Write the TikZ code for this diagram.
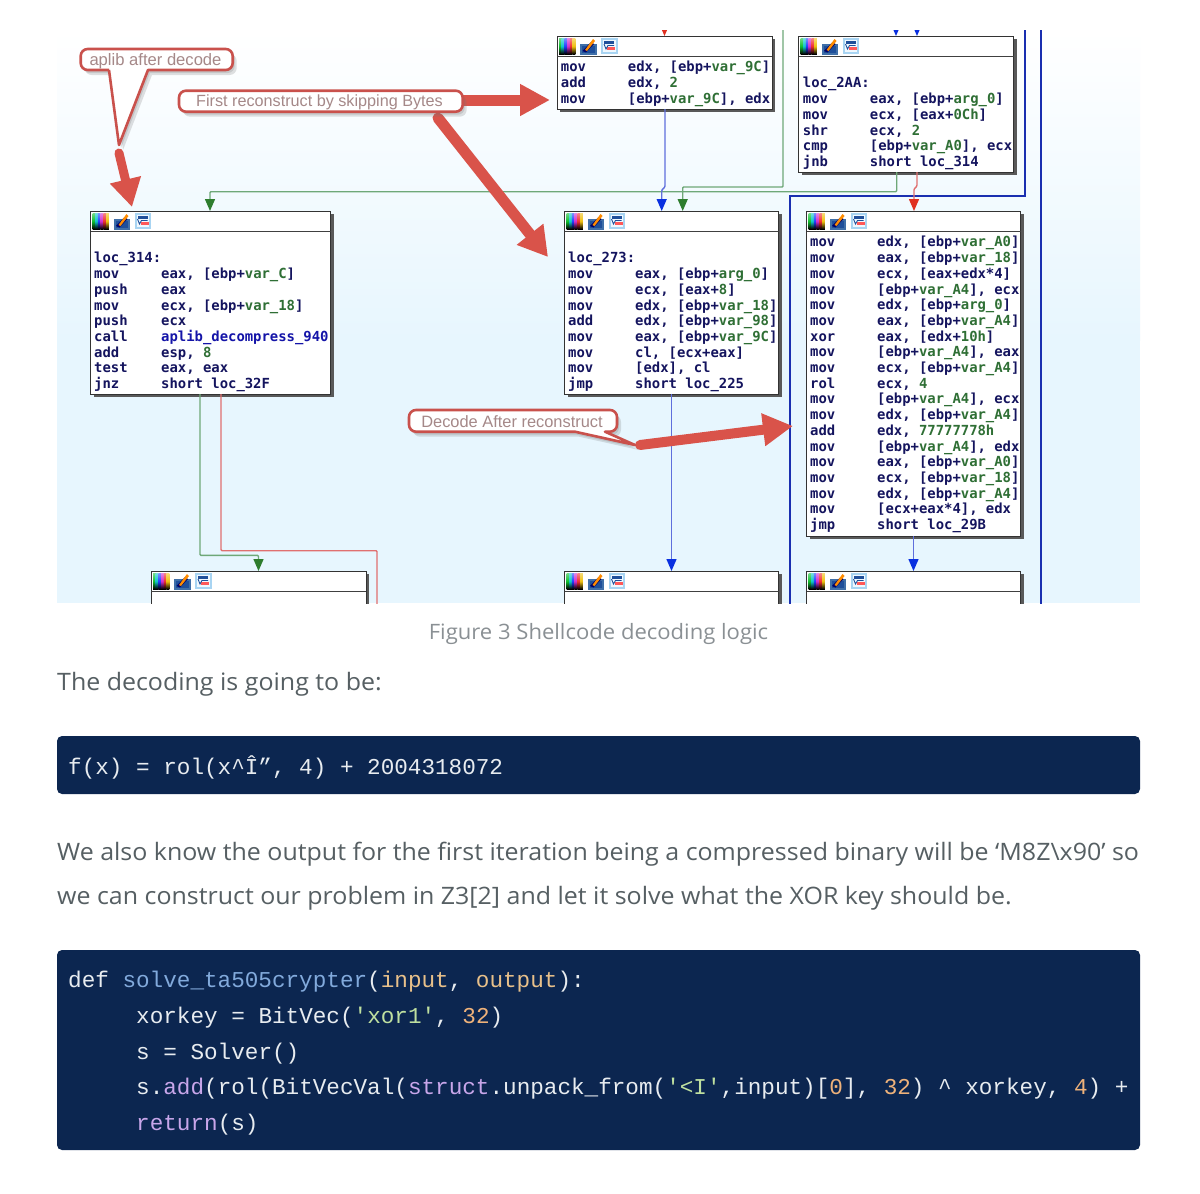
\documentclass[tikz,border=0pt]{standalone}
\usepackage{fontspec}
\usetikzlibrary{arrows.meta,shadows}
\newfontfamily\asmfont{DejaVu Sans Mono}[BoldFont={DejaVu Sans Mono Bold}]
\newfontfamily\codefont{Liberation Mono}
\newfontfamily\notefont{Liberation Sans}
\newfontfamily\bodyfont{Open Sans}[FakeStretch=1.04]
\definecolor{pagebg}{HTML}{E7F6FE}
\definecolor{asmnavy}{HTML}{14145E}
\definecolor{asmgreen}{HTML}{2F6F35}
\definecolor{asmblue}{HTML}{1414A8}
\definecolor{connblue}{HTML}{5F6FDC}
\definecolor{tipblue}{HTML}{0A30E0}
\definecolor{conngreen}{HTML}{6EA878}
\definecolor{tipgreen}{HTML}{2E7D2E}
\definecolor{connred}{HTML}{E07070}
\definecolor{tipred}{HTML}{E03020}
\definecolor{thickblue}{HTML}{1A2FB0}
\definecolor{annot}{HTML}{D9534A}
\definecolor{annotline}{HTML}{C9514C}
\definecolor{annottext}{HTML}{A58888}
\definecolor{codebg}{HTML}{0C2650}
\definecolor{codefg}{HTML}{E8ECF0}
\definecolor{cfunc}{HTML}{82AADC}
\definecolor{carg}{HTML}{E8C08A}
\definecolor{cstr}{HTML}{BFE0A0}
\definecolor{cnum}{HTML}{EFB27A}
\definecolor{cbuilt}{HTML}{C8A6EA}
\definecolor{bodygray}{HTML}{565F63}
\definecolor{capgray}{HTML}{8A9094}
\definecolor{rbA}{HTML}{10C030}
\definecolor{rbB}{HTML}{10C8C8}
\definecolor{rbC}{HTML}{2040FF}
\definecolor{rbD}{HTML}{D030D0}
\definecolor{rbE}{HTML}{F03030}
\definecolor{rbF}{HTML}{F0C010}
\definecolor{icnA}{HTML}{3F6FA8}
\definecolor{icnB}{HTML}{A8D4F2}
\definecolor{icnC}{HTML}{F0F8FE}
\definecolor{icnD}{HTML}{1F4F9A}
\newcommand\vg[1]{\textcolor{asmgreen}{#1}}
\newcommand\vb[1]{\textcolor{asmblue}{#1}}
\newcommand\Ins[2]{\makebox[67pt][l]{#1}#2}
\newcommand\fr{\rule{0pt}{12pt}}
\newcommand\cf[1]{\textcolor{cfunc}{#1}}
\newcommand\ca[1]{\textcolor{carg}{#1}}
\newcommand\cs[1]{\textcolor{cstr}{#1}}
\newcommand\cn[1]{\textcolor{cnum}{#1}}
\newcommand\cb[1]{\textcolor{cbuilt}{#1}}
\tikzset{
  idabox/.style={draw=black!80,line width=1pt,fill=white,anchor=north west,inner sep=0,outer sep=0,
    general shadow={fill=black!65,shadow xshift=3pt,shadow yshift=-3pt}},
  asm/.style={anchor=north west,inner sep=0,align=left,text=asmnavy,
    font={\asmfont\bfseries\fontsize{13.9}{15.7}\selectfont}},
  conn/.style={line width=1.4pt,rounded corners=1pt},
  cblue/.style={conn,draw=connblue,-{Triangle[length=12pt,width=10pt,color=tipblue]}},
  cgreen/.style={conn,draw=conngreen,-{Triangle[length=12pt,width=10pt,color=tipgreen]}},
  cred/.style={conn,draw=connred,-{Triangle[length=12pt,width=10pt,color=tipred]}},
  credplain/.style={conn,draw=connred},
  thick blue/.style={line width=2pt,draw=thickblue},
  bigarrow/.style={draw=annot,line width=#1,line cap=round},
  callout/.style={draw=annotline,line width=2.6pt,fill=white,line join=round},
  calloutshade/.style={fill=black!55,opacity=.22},
  note/.style={inner sep=0,text=annottext,font={\notefont\fontsize{#1}{18}\selectfont}},
  body/.style={anchor=base west,inner sep=0,text=bodygray,font={\bodyfont\fontsize{24}{28}\selectfont}},
  caption/.style={anchor=base,inner sep=0,text=capgray,font={\bodyfont\fontsize{21.2}{24}\selectfont}},
  codeline/.style={anchor=base west,inner sep=0,text=codefg,font={\codefont\fontsize{22.65}{26}\selectfont}},
  codepanel/.style={fill=codebg,rounded corners=5pt},
}
% header rule and three toolbar icons of an IDA block
\newcommand\hdr[1]{%
  \draw[line width=1pt,black!75] ([yshift=-20pt]#1.north west) -- ([yshift=-20pt]#1.north east);
  \begin{scope}[shift={(#1.north west)}]
    \foreach \cx/\cc in {2/rbA,4.7/rbB,7.4/rbC,10.1/rbD,12.8/rbE,15.5/rbF}{
      \shade[top color=\cc!60!white,bottom color=black,middle color=\cc] (\cx,2.5) rectangle (\cx+2.8,18);
    }
    \fill[icnA] (23,8) rectangle (39.5,19);
    \fill[icnD] (25,10) rectangle (37.5,17);
    \fill[black!60!blue] (25.5,15) -- (34,6) -- (37,8) -- (29,16.5) -- cycle;
    \fill[orange!90!yellow] (28,14) -- (36,3) -- (38,5) -- (30,15) -- cycle;
    \fill[icnB] (44,1.5) rectangle (60.5,17.5);
    \fill[icnC] (46,3.5) rectangle (58.5,15.5);
    \fill[icnD] (47,5) rectangle (57,7.5);
    \fill[red!65] (50,11) rectangle (58,14);
    \draw[icnD,line width=.9pt] (47,8) -- (49,13) -- (51,9.5) -- (57,9.5);
  \end{scope}
}
\newcommand\calloutpath[1]{%
  \path[calloutshade,shift={(4,5)}] #1;
  \path[calloutshade,shift={(2,3)}] #1;
  \path[callout] #1;
}
\begin{document}
\begin{tikzpicture}[x=1pt,y=-1pt]
\useasboundingbox (0,0) rectangle (1200,1194);
\fill[white] (0,0) rectangle (1200,1194);
\begin{scope}
\clip (57,30) rectangle (1140,603);
\shade[top color=white,bottom color=pagebg] (57,30) rectangle (1140,340);
\fill[pagebg] (57,339.5) rectangle (1140,603);

% blocks
\coordinate (topA) at (783,20);
\coordinate (topB) at (1025,20);
\coordinate (topC) at (1040.7,20);
\coordinate (botC) at (1040.7,620);
\coordinate (botB) at (790,620);
\coordinate (botR) at (377,620);
\node[idabox,minimum width=215pt,minimum height=73pt]  (b9C)  at (557,36) {};
\node[idabox,minimum width=215pt,minimum height=136pt] (b2AA) at (798.5,36) {};
\node[idabox,minimum width=240pt,minimum height=183pt] (b314) at (90.5,211) {};
\node[idabox,minimum width=214pt,minimum height=183pt] (b273) at (564.5,211) {};
\node[idabox,minimum width=214pt,minimum height=325pt] (bA0)  at (806.5,211) {};
\node[idabox,minimum width=215pt,minimum height=60pt]  (bLow1) at (151,571) {};
\node[idabox,minimum width=214pt,minimum height=60pt]  (bLow2) at (564.5,571) {};
\node[idabox,minimum width=214pt,minimum height=60pt]  (bLow3) at (806.5,571) {};

% connectors
\draw[thick blue] (topC) -- (botC);
\draw[thick blue] (topB) -- (1025,195.7) -- (790,195.7) -- (botB);
\draw[cred] (b9C.north |- 0,20) -- (b9C.north);
\draw[cblue] (896,20) -- (896,0 |- b2AA.north);
\draw[cblue] (917,20) -- (917,0 |- b2AA.north);
\draw[cgreen] (896.7,0 |- b2AA.south) -- (896.7,191.7) -- (210,191.7) -- (210,0 |- b314.north);
\draw[cgreen] (topA) -- (783,187) -- (682.7,187) -- (682.7,0 |- b273.north);
\draw[cblue] (665,0 |- b9C.south) -- (665,187) -- (661.7,190) -- (661.7,0 |- b273.north);
\draw[cred] (917,0 |- b2AA.south) -- (917,186) -- (914,189) -- (914,0 |- bA0.north);
\draw[cblue] (b273.south) -- (b273.south |- bLow2.north);
\draw[cblue] (bA0.south) -- (bA0.south |- bLow3.north);
\draw[cgreen] (200,0 |- b314.south) -- (200,555.3) -- (258.5,555.3) -- (258.5,0 |- bLow1.north);
\draw[credplain] (221,0 |- b314.south) -- (221,550.7) -- (377,550.7) -- (botR);

\hdr{b9C}\hdr{b2AA}\hdr{b314}\hdr{b273}\hdr{bA0}\hdr{bLow1}\hdr{bLow2}\hdr{bLow3}

% assembly text
\node[asm] (t9C) at (560.7,59.7) {\fr\Ins{mov}{edx, [ebp+\vg{var\_9C}]}\\
\Ins{add}{edx, \vg{2}}\\
\Ins{mov}{[ebp+\vg{var\_9C}], edx}};
\node[asm] (t2AA) at (802.7,75.7) {\fr loc\_2AA:\\
\Ins{mov}{eax, [ebp+\vg{arg\_0}]}\\
\Ins{mov}{ecx, [eax+\vg{0Ch}]}\\
\Ins{shr}{ecx, \vg{2}}\\
\Ins{cmp}{[ebp+\vg{var\_A0}], ecx}\\
\Ins{jnb}{short loc\_314}};
\node[asm] (t314) at (94,250.7) {\fr loc\_314:\\
\Ins{mov}{eax, [ebp+\vg{var\_C}]}\\
\Ins{push}{eax}\\
\Ins{mov}{ecx, [ebp+\vg{var\_18}]}\\
\Ins{push}{ecx}\\
\Ins{call}{\vb{aplib\_decompress\_940}}\\
\Ins{add}{esp, \vg{8}}\\
\Ins{test}{eax, eax}\\
\Ins{jnz}{short loc\_32F}};
\node[asm] (t273) at (568,250.7) {\fr loc\_273:\\
\Ins{mov}{eax, [ebp+\vg{arg\_0}]}\\
\Ins{mov}{ecx, [eax+\vg{8}]}\\
\Ins{mov}{edx, [ebp+\vg{var\_18}]}\\
\Ins{add}{edx, [ebp+\vg{var\_98}]}\\
\Ins{mov}{eax, [ebp+\vg{var\_9C}]}\\
\Ins{mov}{cl, [ecx+eax]}\\
\Ins{mov}{[edx], cl}\\
\Ins{jmp}{short loc\_225}};
\node[asm] (tA0) at (810,234.7) {\fr\Ins{mov}{edx, [ebp+\vg{var\_A0}]}\\
\Ins{mov}{eax, [ebp+\vg{var\_18}]}\\
\Ins{mov}{ecx, [eax+edx*4]}\\
\Ins{mov}{[ebp+\vg{var\_A4}], ecx}\\
\Ins{mov}{edx, [ebp+\vg{arg\_0}]}\\
\Ins{mov}{eax, [ebp+\vg{var\_A4}]}\\
\Ins{xor}{eax, [edx+\vg{10h}]}\\
\Ins{mov}{[ebp+\vg{var\_A4}], eax}\\
\Ins{mov}{ecx, [ebp+\vg{var\_A4}]}\\
\Ins{rol}{ecx, \vg{4}}\\
\Ins{mov}{[ebp+\vg{var\_A4}], ecx}\\
\Ins{mov}{edx, [ebp+\vg{var\_A4}]}\\
\Ins{add}{edx, \vg{77777778h}}\\
\Ins{mov}{[ebp+\vg{var\_A4}], edx}\\
\Ins{mov}{eax, [ebp+\vg{var\_A0}]}\\
\Ins{mov}{ecx, [ebp+\vg{var\_18}]}\\
\Ins{mov}{edx, [ebp+\vg{var\_A4}]}\\
\Ins{mov}{[ecx+eax*4], edx}\\
\Ins{jmp}{short loc\_29B}};

% annotations
\coordinate (s1) at (119,153);   \coordinate (e1) at (132,207);
\coordinate (s2) at (462,100);   \coordinate (e2) at (550,100);
\coordinate (s3) at (438,118);   \coordinate (e3) at (548,257);
\coordinate (s4) at (640,445);   \coordinate (e4) at (793,426);
\draw[bigarrow=9pt,-{Triangle[length=28pt,width=30pt,color=annot]}] (s1) -- (e1);
\draw[bigarrow=11pt,line cap=butt,-{Triangle[length=30pt,width=30pt,color=annot]}] (s2) -- (e2);
\draw[bigarrow=11pt,-{Triangle[length=29pt,width=32pt,color=annot]}] (s3) -- (e3);
\draw[bigarrow=10pt,-{Triangle[length=30pt,width=31pt,color=annot]}] (s4) -- (e4);

\calloutpath{(109,70) -- (119,145) -- (148,70) [rounded corners=7pt] -- (232.7,70) -- (232.7,49) -- (80.7,49) -- (80.7,70) -- (109,70)}
\calloutpath{[rounded corners=7pt] (179,90.7) rectangle (462.7,111.7)}
\calloutpath{(575,431.7) -- (635,445) -- (605,431.7) [rounded corners=7pt] -- (617,431.7) -- (617,410) -- (409,410) -- (409,431.7) -- (575,431.7)}
\node[note=16.6] (n1) at (155.5,61) {aplib after decode};
\node[note=16.2] (n2) at (319.5,102.5) {First reconstruct by skipping Bytes};
\node[note=16.4] (n3) at (512,422) {Decode After reconstruct};
\end{scope}

% article text
\node[caption] (cap) at (598.5,639) {Figure 3 Shellcode decoding logic};
\node[body] (p1) at (57,690) {The decoding is going to be:};
\fill[codepanel] (57,736) rectangle (1140,794);
\node[codeline] (c0) at (68,774) {f(x) = rol(x\textasciicircum Î”, 4) + 2004318072};
\node[body] (p2) at (57,860.5) {We also know the output for the first iteration being a compressed binary will be ‘M8Z\textbackslash x90’ so};
\node[body] (p3) at (57,904) {we can construct our problem in Z3[2] and let it solve what the XOR key should be.};
\fill[codepanel] (57,950) rectangle (1140,1150);
\node[codeline] (c1) at (68,987) {def \cf{solve\_ta505crypter}(\ca{input}, \ca{output}):};
\node[codeline] (c2) at (136,1023) {xorkey = BitVec(\cs{'xor1'}, \cn{32})};
\node[codeline] (c3) at (136,1059) {s = Solver()};
\node[codeline] (c4) at (136,1094.5) {s.\cb{add}(rol(BitVecVal(\cb{struct}.unpack\_from(\cs{'<I'},input)[\cn{0}], \cn{32}) \textasciicircum{} xorkey, \cn{4}) +};
\node[codeline] (c5) at (136,1130) {\cb{return}(s)};
\end{tikzpicture}
\end{document}
